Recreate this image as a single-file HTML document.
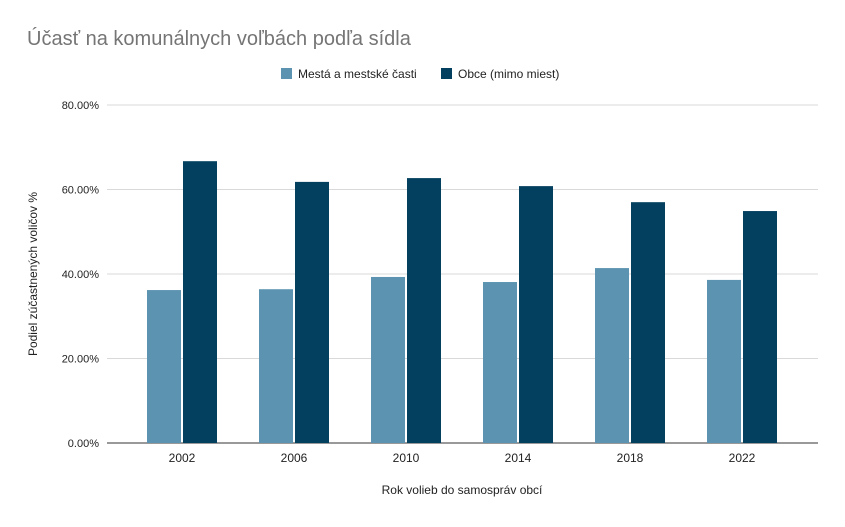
<!DOCTYPE html>
<html><head><meta charset="utf-8">
<style>
body{margin:0;background:#fff;font-family:"Liberation Sans",sans-serif;}
svg text{font-family:"Liberation Sans",sans-serif;}
</style></head>
<body>
<svg id="chart" width="845" height="522" xmlns="http://www.w3.org/2000/svg">
<rect width="845" height="522" fill="#fff"/>
<text x="27" y="45" font-size="20" fill="#757575">Účasť na komunálnych voľbách podľa sídla</text>
<g>
<rect x="281" y="68" width="11" height="11" fill="#5b93b0"/>
<text x="298" y="78" font-size="12" fill="#222">Mestá a mestské časti</text>
<rect x="441" y="68" width="11" height="11" fill="#03405f"/>
<text x="458" y="78" font-size="12" fill="#222">Obce (mimo miest)</text>
</g>
<g id="grid"></g>
<g id="bars"></g>
<g id="xlabels"></g>
<text x="462" y="494" font-size="12" text-anchor="middle" fill="#222">Rok volieb do samospráv obcí</text>
<text transform="translate(37,274) rotate(-90)" font-size="12" text-anchor="middle" fill="#222">Podiel zúčastnených voličov %</text>
</svg>
<script>
const categories=["2002","2006","2010","2014","2018","2022"];
const mesta=[36.2,36.4,39.3,38.1,41.4,38.6];
const obce=[66.7,61.8,62.7,60.8,57.0,54.9];
const yTicks=[0,20,40,60,80];
const yTickLabels=["0.00%","20.00%","40.00%","60.00%","80.00%"];
const NS="http://www.w3.org/2000/svg";
const y0=443,y80=105,x0=107,x1=818;
function yScale(v){return y0-(v/80)*(y0-y80);}
function xCenter(i){return 126+(i+0.5)*(672/categories.length);}
function mk(tag,attrs,parent){const e=document.createElementNS(NS,tag);for(const k in attrs)e.setAttribute(k,attrs[k]);parent.appendChild(e);return e;}
const grid=document.getElementById('grid'),bars=document.getElementById('bars'),xl=document.getElementById('xlabels');
yTicks.forEach((t,i)=>{
  const y=yScale(t);
  const l=mk('line',{x1:x0,x2:x1,y1:y,y2:y,stroke:i===0?'#333':'#d9d9d9','stroke-width':1},grid);
  
  
  const tx=mk('text',{x:99,y:y+4,'font-size':11,'text-anchor':'end',fill:'#222'},grid);
  tx.textContent=yTickLabels[i];
  
  
});
const bw=34;
categories.forEach((c,i)=>{
  const cx=xCenter(i);
  const a=mk('rect',{x:cx-bw-1,y:yScale(mesta[i]),width:bw,height:y0-yScale(mesta[i]),fill:'#5b93b0'},bars);
  
  
  const b=mk('rect',{x:cx+1,y:yScale(obce[i]),width:bw,height:y0-yScale(obce[i]),fill:'#03405f'},bars);
  
  
  const t=mk('text',{x:cx,y:462,'font-size':12,'text-anchor':'middle',fill:'#222'},xl);
  t.textContent=c;
  
  
});
</script>
</body></html>
